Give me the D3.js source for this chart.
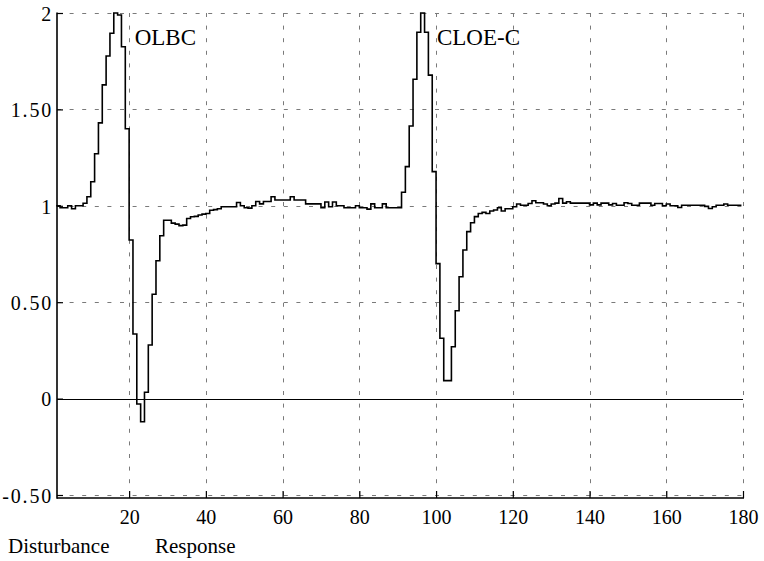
<!DOCTYPE html>
<html><head><meta charset="utf-8">
<script src="https://cdn.jsdelivr.net/npm/d3@7/dist/d3.min.js"></script>
<style>
body{margin:0;background:#fff;}
</style></head>
<body><svg id="c" width="764" height="561"></svg>
<script>
// sample values (step series), one per unit of time starting at t=1
const values = [
1.0,0.99,0.99,1.0,0.985,1.0,1.0,1.013,1.047,1.125,
1.27,1.43,1.627,1.777,1.895,2.0,1.99,1.825,1.40,0.823,
0.335,-0.028,-0.12,0.033,0.278,0.541,0.715,0.845,0.925,0.925,
0.91,0.905,0.897,0.90,0.934,0.943,0.945,0.952,0.957,0.96,
0.977,0.98,0.985,0.995,0.995,0.995,0.995,1.017,1.0,0.99,
0.988,1.0,1.022,1.01,1.022,1.022,1.047,1.03,1.03,1.03,
1.03,1.047,1.03,1.03,1.03,1.01,1.01,1.01,1.01,0.99,
1.02,0.995,1.02,1.0,1.0,0.99,0.99,0.99,1.0,0.99,
0.99,0.983,1.01,0.99,0.99,1.01,0.99,0.99,0.99,0.99,
1.07,1.203,1.414,1.656,1.9,2.0,1.9,1.678,1.177,0.70,
0.313,0.093,0.093,0.269,0.456,0.632,0.771,0.866,0.912,0.944,
0.96,0.966,0.96,0.973,0.978,0.99,0.973,0.985,0.985,0.995,
1.009,1.003,1.003,1.012,1.026,1.016,1.016,1.009,1.0,1.009,
1.014,1.038,1.014,1.021,1.014,1.014,1.014,1.014,1.014,1.005,
1.014,1.005,1.014,1.014,1.005,1.012,1.003,1.003,1.016,1.012,
1.003,1.003,1.014,1.014,1.014,1.003,1.012,1.012,1.0,1.009,
1.0,1.0,0.991,1.003,1.003,1.003,1.003,1.003,1.003,0.997,
0.986,0.995,1.003,1.003,1.009,1.003,1.003,1.003,1.003
];
const xTicks = [20,40,60,80,100,120,140,160,180];
const yTicks = [-0.5,0,0.5,1,1.5,2];
const yTickLabels = ["-0.50","0","0.50","1","1.50","2"];
const annotations = [{text:"OLBC", t:20.4}, {text:"CLOE-C", t:99.2}];
const footer = [{text:"Disturbance", x:8}, {text:"Response", x:155}];

const FONT = "'Liberation Serif', serif";
const svg = d3.select("#c");
const x = d3.scaleLinear().domain([1.2,180]).range([57,743]);
const y = d3.scaleLinear().domain([-0.5,2]).range([495,13]);
const axisY = 498;

const data = values.map((v,i)=>({t:i+1, v}));
data.push({t:values.length+1-0.4, v:values[values.length-1]});

// grid
const grid = svg.append("g").attr("stroke","#7a7a7a").attr("stroke-width",1).attr("stroke-dasharray","4,8.6");
grid.selectAll("line.v").data(xTicks).join("line")
  .attr("x1",d=>Math.round(x(d))+0.5).attr("x2",d=>Math.round(x(d))+0.5)
  .attr("y1",y(2)).attr("y2",axisY);
grid.selectAll("line.h").data(yTicks).join("line")
  .attr("x1",x.range()[0]).attr("x2",x.range()[1])
  .attr("y1",d=>Math.round(y(d))+0.5).attr("y2",d=>Math.round(y(d))+0.5);

// zero line
svg.append("line").attr("x1",x.range()[0]).attr("x2",x.range()[1])
  .attr("y1",Math.round(y(0))+0.5).attr("y2",Math.round(y(0))+0.5)
  .attr("stroke","#000").attr("stroke-width",1.2);

// axes
const gy = svg.append("g").attr("transform",`translate(${x.range()[0]},0)`)
  .call(d3.axisLeft(y).tickValues(yTicks).tickSize(-6).tickPadding(4)
    .tickFormat((d,i)=>yTickLabels[i]));
gy.attr("font-family",FONT);
gy.select(".domain").remove();
gy.selectAll("line").attr("stroke","#000").attr("stroke-width",1.2);
gy.selectAll("text").style("font-family",FONT).style("font-size","20px")
  .style("letter-spacing","1.8px").attr("dy","0.36em").attr("fill","#000");

const gx = svg.append("g").attr("transform",`translate(0,${axisY})`)
  .call(d3.axisBottom(x).tickValues(xTicks).tickSize(-7).tickPadding(8));
gx.attr("font-family",FONT);
gx.select(".domain").remove();
gx.selectAll("line").attr("stroke","#000").attr("stroke-width",1.2);
gx.selectAll("text").style("font-family",FONT).style("font-size","20px").attr("dy","0.9em").attr("fill","#000");

svg.append("line").attr("x1",x.range()[0]).attr("x2",x.range()[1]+1)
  .attr("y1",axisY).attr("y2",axisY).attr("stroke","#000").attr("stroke-width",1.6);
svg.append("line").attr("x1",x.range()[0]).attr("x2",x.range()[0])
  .attr("y1",y(2)-0.5).attr("y2",axisY+0.8).attr("stroke","#000").attr("stroke-width",1.6);

// series
const line = d3.line().x(d=>x(d.t)).y(d=>y(d.v)).curve(d3.curveStepAfter);
svg.append("path").datum(data).attr("d",line)
  .attr("fill","none").attr("stroke","#000").attr("stroke-width",1.6);

// annotations
svg.selectAll("text.ann").data(annotations).join("text")
  .attr("class","ann")
  .attr("x",d=>x(d.t)+4).attr("y",45)
  .style("font-family",FONT).style("font-size","23px").text(d=>d.text);

svg.selectAll("text.foot").data(footer).join("text")
  .attr("class","foot")
  .attr("x",d=>d.x).attr("y",553)
  .style("font-family",FONT).style("font-size","21px").text(d=>d.text);
</script></body></html>
